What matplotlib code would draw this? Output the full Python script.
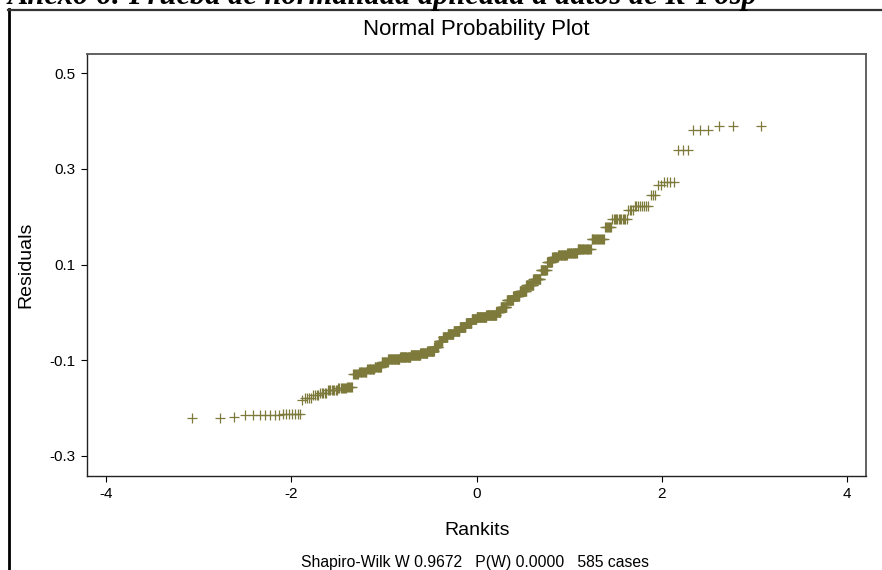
from statistics import NormalDist
import numpy as np
import matplotlib
matplotlib.use("Agg")
import matplotlib.pyplot as plt
from matplotlib.lines import Line2D

# sorted residual levels and how many cases sit at each level
residual_levels = [-0.220, -0.218, -0.215, -0.213, -0.184, -0.178, -0.172, -0.168,
                   -0.163, -0.159, -0.156, -0.128, -0.124, -0.119, -0.114, -0.104,
                   -0.098, -0.094, -0.090, -0.085, -0.080, -0.072, -0.060, -0.052,
                   -0.045, -0.038, -0.030, -0.022, -0.014, -0.009, -0.005, 0.000,
                   0.012, 0.025, 0.035, 0.045, 0.057, 0.070, 0.088, 0.105,
                   0.115, 0.120, 0.125, 0.132, 0.154, 0.179, 0.196, 0.213,
                   0.223, 0.246, 0.267, 0.273, 0.340, 0.382, 0.390]
level_counts = [2, 1, 7, 7, 1, 4, 4, 5,
                8, 8, 6, 6, 10, 10, 10, 10,
                20, 20, 20, 15, 15, 10, 10, 12,
                14, 15, 15, 15, 12, 25, 25, 10,
                15, 15, 15, 15, 15, 15, 12, 10,
                10, 15, 15, 18, 14, 7, 12, 4,
                8, 3, 2, 4, 3, 3, 3]

x_ticks = [-4, -2, 0, 2, 4]
y_ticks = [-0.3, -0.1, 0.1, 0.3, 0.5]

residuals = np.repeat(residual_levels, level_counts)
n = len(residuals)
# rankits (expected normal scores, Blom positions)
nd = NormalDist()
rankits = np.array([nd.inv_cdf((i - 0.375) / (n + 0.25)) for i in range(1, n + 1)])

plt.rcParams['font.family'] = ['Liberation Sans', 'DejaVu Sans']

fig = plt.figure(figsize=(8.82, 5.7), dpi=100)
ax = fig.add_axes([0.0986, 0.1649, 0.8833, 0.7404])

ax.plot(rankits, residuals, linestyle='none', marker='+', markersize=7.5,
        markeredgewidth=0.9, color='#7d7a3c')

ax.set_xlim(-4.205, 4.205)
ax.set_ylim(-0.342, 0.54)
ax.set_xticks(x_ticks)
ax.set_xticklabels([str(t) for t in x_ticks])
ax.set_yticks(y_ticks)
ax.set_yticklabels(['%.1f' % t for t in y_ticks])
ax.tick_params(direction='out', length=4, width=0.8, labelsize=11, pad=4)
for s in ['left', 'bottom']:
    ax.spines[s].set_color('#222222')
    ax.spines[s].set_linewidth(1.0)
for s in ['top', 'right']:
    ax.spines[s].set_color('#555555')
    ax.spines[s].set_linewidth(1.3)

fig.text(0.540, 0.949, 'Normal Probability Plot', ha='center', va='center', fontsize=16)
fig.text(0.541, 0.070, 'Rankits', ha='center', va='center', fontsize=14)
fig.text(0.029, 0.535, 'Residuals', ha='center', va='center', rotation=90, fontsize=14)
fig.text(0.539, 1 - 567 / 570, 'Shapiro-Wilk W 0.9672   P(W) 0.0000   585 cases',
         ha='center', va='baseline', fontsize=11.3)

# caption above the frame, partly cut off by the top edge
fig.text(8 / 882, 1 - 4 / 570, 'Anexo 6: Prueba de normalidad aplicada a datos de R-Posp',
         ha='left', va='baseline', fontsize=22, family='Liberation Serif',
         weight='bold', style='italic')

# outer frame lines
fig.add_artist(Line2D([9 / 882, 9 / 882], [0, 1 - 9 / 570], transform=fig.transFigure,
                      color='black', linewidth=2))
fig.add_artist(Line2D([8 / 882, 1], [1 - 9.5 / 570, 1 - 9.5 / 570], transform=fig.transFigure,
                      color='#333333', linewidth=1.6))

fig.savefig('out.png', dpi=100)
